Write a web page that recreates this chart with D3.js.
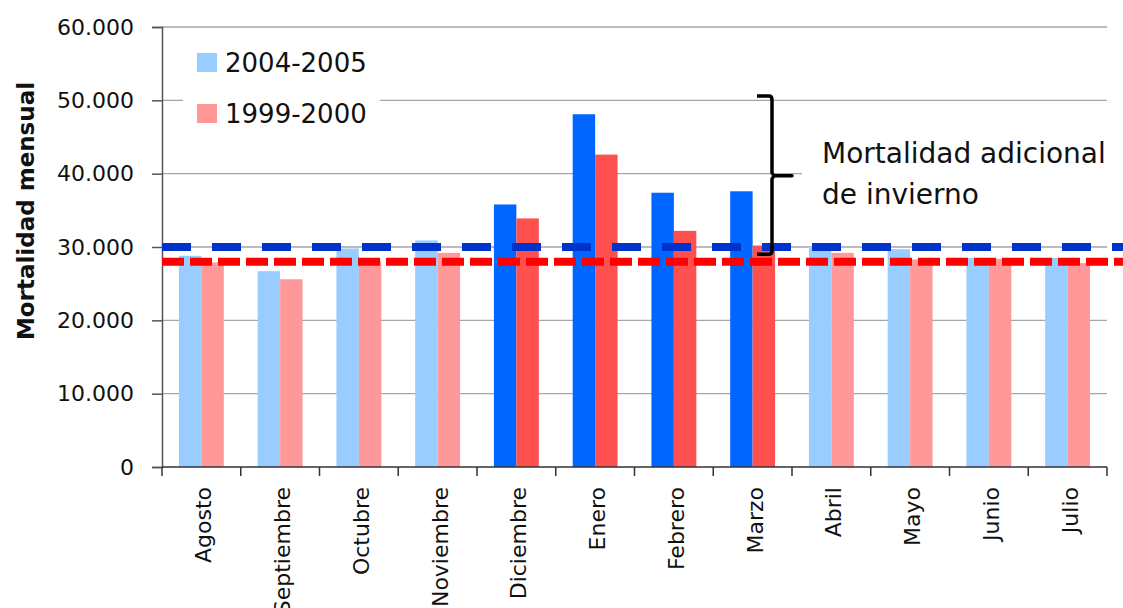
<!DOCTYPE html>
<html>
<head>
<meta charset="UTF-8">
<title>Mortalidad mensual</title>
<script src="https://d3js.org/d3.v7.min.js"></script>
<style>
  body { margin: 0; background: #fff; }
  text { font-family: "DejaVu Sans", sans-serif; fill: #111; }
</style>
</head>
<body>
<div id="chart"></div>
<script>
// data
var months = ["Agosto", "Septiembre", "Octubre", "Noviembre", "Diciembre", "Enero",
              "Febrero", "Marzo", "Abril", "Mayo", "Junio", "Julio"];
var series = ["2004-2005", "1999-2000"];
var values0405 = [28800, 26700, 29800, 30900, 35800, 48100, 37400, 37600, 30000, 29700, 28500, 28500];
var values9900 = [27900, 25600, 28100, 29200, 33900, 42600, 32200, 30200, 29200, 28300, 28400, 27800];
var winter = [false, false, false, false, true, true, true, true, false, false, false, false];
var yTicks = [0, 10000, 20000, 30000, 40000, 50000, 60000];
var baseline0405 = 30000;
var baseline9900 = 28000;
var bracketTop = 50600, bracketMid = 39700, bracketBottom = 29000;

var W = 1123, H = 608;
// plot box (note: "top" is taken by window.top, so use other names)
var pLeft = 162, pRight = 1107, pTop = 27, pBottom = 467;

var svg = d3.select("#chart").append("svg")
    .attr("width", W).attr("height", H);

var fmt = d3.formatLocale({decimal: ",", thousands: ".", grouping: [3], currency: ["", ""]}).format(",d");

var y = d3.scaleLinear().domain([0, 60000]).range([pBottom, pTop]);
var x0 = d3.scaleBand().domain(months).range([pLeft, pRight])
    .paddingInner(0.43).paddingOuter(0.215);
var x1 = d3.scaleBand().domain(series).range([0, x0.bandwidth()]);

// colours: light for normal months, strong for winter
function colour(s, i) {
  if (s == 0) return winter[i] ? "#0066ff" : "#99ccff";
  return winter[i] ? "#ff5050" : "#ff9999";
}

// gridlines
svg.append("g").selectAll("line").data(yTicks.slice(1)).enter().append("line")
    .attr("x1", pLeft).attr("x2", pRight)
    .attr("y1", d => y(d)).attr("y2", d => y(d))
    .attr("stroke", "#a6a6a6").attr("stroke-width", 1.3);

// white boxes behind legend and note (they hide the gridlines)
svg.append("rect").attr("x", 183).attr("y", 40).attr("width", 197).attr("height", 90).attr("fill", "#fff");
svg.append("rect").attr("x", 802).attr("y", 132).attr("width", 321).attr("height", 84).attr("fill", "#fff");

// bars
var groups = svg.append("g").selectAll("g").data(months).enter().append("g")
    .attr("transform", d => "translate(" + x0(d) + ",0)");
groups.selectAll("rect")
    .data((m, i) => [values0405[i], values9900[i]].map((v, s) => ({v: v, s: s, i: i})))
    .enter().append("rect")
    .attr("x", d => x1(series[d.s]))
    .attr("width", x1.bandwidth())
    .attr("y", d => y(d.v))
    .attr("height", d => y(0) - y(d.v))
    .attr("fill", d => colour(d.s, d.i));

// y axis
var yAxis = d3.axisLeft(y).tickValues(yTicks).tickFormat(fmt).tickSize(10).tickPadding(18);
var gy = svg.append("g").attr("transform", "translate(" + pLeft + ",0)").call(yAxis);
gy.select(".domain").attr("stroke", "#555").attr("stroke-width", 1.5);
gy.selectAll(".tick line").attr("stroke", "#555").attr("stroke-width", 1.5);
gy.selectAll("text").style("font-family", "DejaVu Sans").style("font-size", "22px").attr("fill", "#111");

// x axis with ticks on category boundaries
var step = x0.step();
var gx = svg.append("g");
gx.append("line").attr("x1", pLeft).attr("x2", pRight).attr("y1", pBottom).attr("y2", pBottom)
    .attr("stroke", "#333").attr("stroke-width", 1.5);
gx.selectAll(".tk").data(d3.range(months.length + 1)).enter().append("line")
    .attr("x1", i => pLeft + i * step).attr("x2", i => pLeft + i * step)
    .attr("y1", pBottom).attr("y2", pBottom + 9)
    .attr("stroke", "#333").attr("stroke-width", 1.5);
gx.selectAll("text").data(months).enter().append("text")
    .attr("transform", d => "translate(" + (x0(d) + x0.bandwidth() / 2 + 2) + "," + (pBottom + 20) + ") rotate(-90)")
    .attr("dy", "0.36em")
    .attr("text-anchor", "end")
    .style("font-size", "22px")
    .text(d => d);

// dashed reference lines
svg.append("line").attr("x1", pLeft).attr("x2", W)
    .attr("y1", y(baseline0405)).attr("y2", y(baseline0405))
    .attr("stroke", "#0033cc").attr("stroke-width", 8).attr("stroke-dasharray", "29,21");
svg.append("line").attr("x1", pLeft).attr("x2", W)
    .attr("y1", y(baseline9900)).attr("y2", y(baseline9900))
    .attr("stroke", "#ff0000").attr("stroke-width", 8).attr("stroke-dasharray", "22,6");

// y title
svg.append("text")
    .attr("transform", "translate(34,211) rotate(-90)")
    .attr("text-anchor", "middle")
    .style("font-size", "23px").style("font-weight", "bold")
    .text("Mortalidad mensual");

// legend
var leg = svg.append("g").selectAll("g").data(series).enter().append("g")
    .attr("transform", (d, i) => "translate(197," + (53 + i * 51) + ")");
leg.append("rect").attr("width", 20).attr("height", 19)
    .attr("fill", (d, i) => colour(i, 0));
leg.append("text").attr("x", 28).attr("y", 19)
    .style("font-size", "26px").text(d => d);

// bracket for the extra winter deaths
var bx = 757, bv = 772, by0 = y(bracketTop), bym = y(bracketMid), by1 = y(bracketBottom);
svg.append("path")
    .attr("d", "M" + bx + "," + by0 + " L" + (bv - 3) + "," + by0 + " Q" + bv + "," + by0 + " " + bv + "," + (by0 + 4) +
               " L" + bv + "," + (bym - 3) + " L" + (bv + 2) + "," + bym + " L" + (bv + 20) + "," + bym +
               " L" + (bv + 2) + "," + bym + " L" + bv + "," + (bym + 3) +
               " L" + bv + "," + (by1 - 4) + " Q" + bv + "," + by1 + " " + (bv - 3) + "," + by1 + " L" + bx + "," + by1)
    .attr("fill", "none").attr("stroke", "#000").attr("stroke-width", 3.5).attr("stroke-linejoin", "round");

var note = svg.append("text").style("font-size", "28px");
note.append("tspan").attr("x", 822).attr("y", 163).text("Mortalidad adicional");
note.append("tspan").attr("x", 822).attr("y", 204).text("de invierno");
</script>
</body>
</html>
